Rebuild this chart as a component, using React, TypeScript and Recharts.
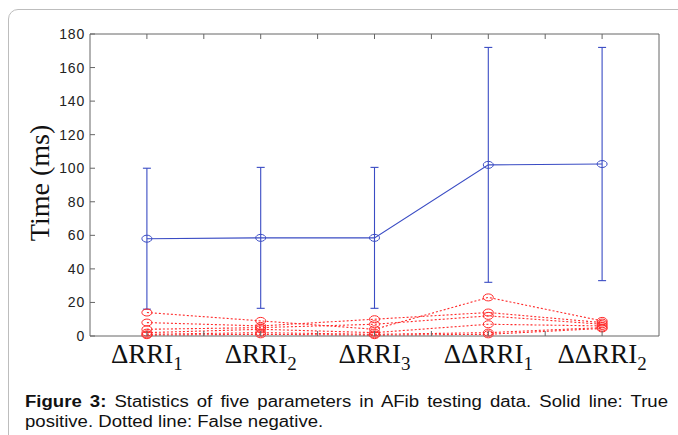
import { ErrorBar, Label, Line, LineChart, XAxis, YAxis } from 'recharts';

// categories along x (1..5) with subscripts
const xPositions = [1, 2, 3, 4, 5];
const categoryNames = ['ΔRRI', 'ΔRRI', 'ΔRRI', 'ΔΔRRI', 'ΔΔRRI'];
const categorySubs = ['1', '2', '3', '1', '2'];
const xTicks = [1, 1.5, 2, 2.5, 3, 3.5, 4, 4.5, 5];
const yTicks = [0, 20, 40, 60, 80, 100, 120, 140, 160, 180];

// true positive: mean and half-range of error bar
const truePositiveMean = [58, 58.5, 58.5, 102, 102.5];
const truePositiveErr = [42, 42, 42, 70, 69.5];

// false negative cases (dotted)
const falseNeg1 = [14, 9, 4, 23, 9];
const falseNeg2 = [8, 6, 10, 14, 8];
const falseNeg3 = [4, 5, 7, 12, 7];
const falseNeg4 = [2, 4, 2, 7, 6];
const falseNeg5 = [1, 2, 1, 2, 5];
const falseNeg6 = [0.5, 1, 0.5, 1, 4.5];
const falseNegSeries = [falseNeg1, falseNeg2, falseNeg3, falseNeg4, falseNeg5, falseNeg6];

const BLUE = '#3a4cc4';
const RED = '#ff2a2a';
const AXIS = '#666666';
const CAPTION_STRETCH = 1.16;

const data = xPositions.map((x, i) => {
  const row: Record<string, number> = { x, mean: truePositiveMean[i], err: truePositiveErr[i] };
  falseNegSeries.forEach((s, k) => {
    row[`fn${k}`] = s[i];
  });
  return row;
});

function BottomTick(props: any) {
  const { x, y, payload } = props;
  const v = payload.value as number;
  const idx = xPositions.indexOf(v);
  return (
    <g>
      <line x1={x} y1={y} x2={x} y2={y - 5} stroke={AXIS} />
      {idx >= 0 && (
        <text x={x} y={y + 27} textAnchor="middle" fontFamily="Liberation Serif" fontSize={27} fill="#111">
          {categoryNames[idx]}
          <tspan dy={7} fontSize={19}>{categorySubs[idx]}</tspan>
        </text>
      )}
    </g>
  );
}

function TopTick(props: any) {
  const { x, y } = props;
  return <line x1={x} y1={y} x2={x} y2={y + 5} stroke={AXIS} />;
}

function LeftTick(props: any) {
  const { x, y, payload } = props;
  return (
    <g>
      <line x1={x} y1={y} x2={x + 5} y2={y} stroke={AXIS} />
      <text x={x - 5} y={y + 5} textAnchor="end" fontFamily="Liberation Sans" fontSize={14} letterSpacing={0.8} fill="#222">
        {payload.value}
      </text>
    </g>
  );
}

function RightTick(props: any) {
  const { x, y } = props;
  return <line x1={x} y1={y} x2={x - 5} y2={y} stroke={AXIS} />;
}

function makeDot(color: string, rx: number, ry: number) {
  return (p: any) => {
    const { cx, cy, index } = p;
    if (typeof cx !== 'number' || typeof cy !== 'number') return <g key={index} />;
    return <ellipse key={index} cx={cx} cy={cy} rx={rx} ry={ry} fill="none" stroke={color} strokeWidth={1} />;
  };
}

export default function App() {
  return (
    <div style={{ position: 'fixed', left: 0, top: 0, width: 678, height: 435, overflow: 'hidden', background: '#fff' }}>
      <div
        style={{
          position: 'absolute',
          left: 8,
          top: 9,
          width: 720,
          height: 480,
          border: '1px solid #bdbdbd',
          borderTopLeftRadius: 10,
        }}
      />
      <div style={{ position: 'absolute', left: 0, top: 0 }}>
        <LineChart width={678} height={435} data={data} margin={{ top: 0, right: 0, bottom: 0, left: 0 }}>
          <XAxis
            dataKey="x"
            type="number"
            domain={[0.5, 5.5]}
            ticks={xTicks}
            interval={0}
            height={99}
            tickSize={0}
            tickMargin={0}
            tickLine={false}
            axisLine={{ stroke: AXIS }}
            tick={(p: any) => <BottomTick {...p} />}
          />
          <XAxis
            xAxisId="top"
            dataKey="x"
            type="number"
            orientation="top"
            domain={[0.5, 5.5]}
            ticks={xTicks}
            interval={0}
            height={34}
            tickSize={0}
            tickMargin={0}
            tickLine={false}
            axisLine={{ stroke: AXIS }}
            tick={(p: any) => <TopTick {...p} />}
          />
          <YAxis
            type="number"
            domain={[0, 180]}
            ticks={yTicks}
            interval={0}
            width={90}
            tickSize={0}
            tickMargin={0}
            tickLine={false}
            axisLine={{ stroke: AXIS }}
            tick={(p: any) => <LeftTick {...p} />}
          >
            <Label
              value="Time (ms)"
              angle={-90}
              position="center"
              dx={-6}
              dy={-2}
              style={{ fontFamily: 'Liberation Serif', fontSize: 28, fill: '#111' }}
            />
          </YAxis>
          <YAxis
            yAxisId="right"
            orientation="right"
            type="number"
            domain={[0, 180]}
            ticks={yTicks}
            interval={0}
            width={19}
            tickSize={0}
            tickMargin={0}
            tickLine={false}
            axisLine={{ stroke: AXIS }}
            tick={(p: any) => <RightTick {...p} />}
          />
          {falseNegSeries.map((_, k) => (
            <Line
              key={k}
              dataKey={`fn${k}`}
              stroke={RED}
              strokeWidth={1.1}
              strokeDasharray="2 2"
              dot={makeDot(RED, 5, 3.5)}
              isAnimationActive={false}
            />
          ))}
          <Line
            dataKey="mean"
            stroke={BLUE}
            strokeWidth={1.1}
            dot={makeDot(BLUE, 5, 3.5)}
            isAnimationActive={false}
          >
            <ErrorBar dataKey="err" width={4} stroke={BLUE} strokeWidth={1.1} />
          </Line>
        </LineChart>
      </div>
      <div
        style={{
          position: 'absolute',
          left: 25,
          top: 392,
          width: 643 / CAPTION_STRETCH,
          transform: `scaleX(${CAPTION_STRETCH})`,
          transformOrigin: 'left top',
          fontFamily: 'Liberation Sans',
          fontSize: 16,
          lineHeight: '20px',
          color: '#111',
        }}
      >
        <div style={{ textAlign: 'justify', textAlignLast: 'justify', whiteSpace: 'nowrap' }}>
          <b>Figure 3:</b> Statistics of five parameters in AFib testing data. Solid line: True
        </div>
        <div>positive. Dotted line: False negative.</div>
      </div>
    </div>
  );
}
